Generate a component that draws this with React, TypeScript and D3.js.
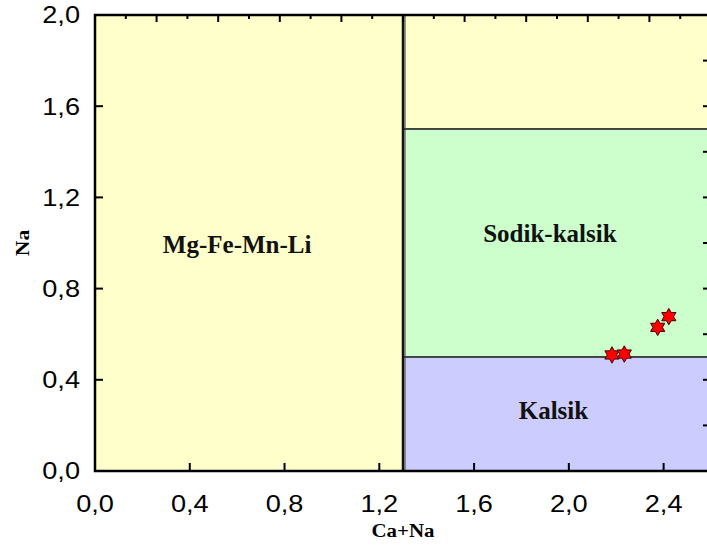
import React, { useEffect, useRef } from "react";
import * as d3 from "d3";

// Data
const sampleX = [2.182, 2.234, 2.375, 2.422];
const sampleY = [0.509, 0.513, 0.63, 0.677];

// Classification fields: [x0, x1, y0, y1]
const fieldNames = ["Mg-Fe-Mn-Li", "upper", "Sodik-kalsik", "Kalsik"];
const fieldX0 = [0, 1.3, 1.3, 1.3];
const fieldX1 = [1.3, 2.6, 2.6, 2.6];
const fieldY0 = [0, 1.5, 0.5, 0];
const fieldY1 = [2.0, 2.0, 1.5, 0.5];
const fieldColors = ["#FFFFCC", "#FFFFCC", "#CCFFCC", "#CCCCFF"];

// Label anchors (data coords)
const labelText = ["Mg-Fe-Mn-Li", "Sodik-kalsik", "Kalsik"];
const labelX = [0.6, 1.92, 1.935];
const labelY = [0.956, 1.006, 0.228];

const xTicks = [0, 0.4, 0.8, 1.2, 1.6, 2.0, 2.4];
const yTicks = [0, 0.4, 0.8, 1.2, 1.6, 2.0];
const fmt = (v: number) => v.toFixed(1).replace(".", ",");

export default function App() {
  const ref = useRef<SVGSVGElement | null>(null);

  useEffect(() => {
    const svg = d3.select(ref.current);
    svg.selectAll("*").remove();

    const left = 95, right = 711, top = 15, bottom = 471;
    const x = d3.scaleLinear().domain([0, 2.6]).range([left, right]);
    const y = d3.scaleLinear().domain([0, 2.0]).range([bottom, top]);
    const xTop = d3.scaleLinear().domain([0, 10]).range([left, right]);

    // Fields
    const idx = d3.range(fieldNames.length);
    svg
      .append("g")
      .selectAll("rect")
      .data(idx)
      .join("rect")
      .attr("x", (i) => x(fieldX0[i]) + (i > 0 ? 2 : 0))
      .attr("y", (i) => y(fieldY1[i]))
      .attr("width", (i) => x(fieldX1[i]) - x(fieldX0[i]) - (i > 0 ? 2 : 0))
      .attr("height", (i) => y(fieldY0[i]) - y(fieldY1[i]))
      .attr("fill", (i) => fieldColors[i])
      .attr("stroke", "#555")
      .attr("stroke-width", 1.2);

    // Horizontal boundaries
    [1.5, 0.5].forEach((v) => {
      svg
        .append("line")
        .attr("x1", x(1.3))
        .attr("x2", right)
        .attr("y1", y(v))
        .attr("y2", y(v))
        .attr("stroke", "#333")
        .attr("stroke-width", 1.6);
    });

    // Vertical boundary at 1.3
    svg
      .append("line")
      .attr("x1", x(1.3))
      .attr("x2", x(1.3))
      .attr("y1", top)
      .attr("y2", bottom)
      .attr("stroke", "#111")
      .attr("stroke-width", 2.5);

    // Frame
    svg
      .append("rect")
      .attr("x", left)
      .attr("y", top)
      .attr("width", right - left)
      .attr("height", bottom - top)
      .attr("fill", "none")
      .attr("stroke", "#000")
      .attr("stroke-width", 2.5);

    const tickG = svg.append("g").attr("stroke", "#000").attr("stroke-width", 2);
    // bottom ticks
    xTicks.forEach((t) => {
      tickG.append("line").attr("x1", x(t)).attr("x2", x(t)).attr("y1", bottom).attr("y2", bottom - 8);
    });
    // left ticks
    yTicks.forEach((t) => {
      tickG.append("line").attr("x1", left).attr("x2", left + 8).attr("y1", y(t)).attr("y2", y(t));
    });
    // top ticks
    d3.range(0, 10.01, 0.5).forEach((t) => {
      const major = Math.abs(t - Math.round(t)) < 1e-6;
      tickG
        .append("line")
        .attr("x1", xTop(t))
        .attr("x2", xTop(t))
        .attr("y1", top)
        .attr("y2", top + (major ? 7 : 4));
    });
    // right ticks
    d3.range(0, 2.001, 0.1).forEach((t) => {
      const major = Math.abs(t * 5 - Math.round(t * 5)) < 1e-6;
      tickG
        .append("line")
        .attr("x1", right)
        .attr("x2", right - (major ? 8 : 4))
        .attr("y1", y(t))
        .attr("y2", y(t));
    });

    // tick labels
    const sans = "'Liberation Sans', Arial, sans-serif";
    xTicks.forEach((t) => {
      svg
        .append("text")
        .attr("transform", `translate(${x(t)},512) scale(1.18,1)`)
        .attr("text-anchor", "middle")
        .attr("font-family", sans)
        .attr("font-size", 23)
        .attr("fill", "#000")
        .text(fmt(t));
    });
    yTicks.forEach((t) => {
      svg
        .append("text")
        .attr("transform", `translate(80,${y(t) + 8.3}) scale(1.18,1)`)
        .attr("text-anchor", "end")
        .attr("font-family", sans)
        .attr("font-size", 23)
        .attr("fill", "#000")
        .text(fmt(t));
    });

    const serif = "'Liberation Serif', 'Times New Roman', serif";
    // axis titles
    svg
      .append("text")
      .attr("transform", `translate(${(left + right) / 2},537) scale(1.1,1)`)
      .attr("text-anchor", "middle")
      .attr("font-family", serif)
      .attr("font-weight", "bold")
      .attr("font-size", 19)
      .text("Ca+Na");
    svg
      .append("text")
      .attr("transform", `translate(28.5,243) rotate(-90) scale(1.2,1)`)
      .attr("text-anchor", "middle")
      .attr("font-family", serif)
      .attr("font-weight", "bold")
      .attr("font-size", 18)
      .text("Na");

    // field labels
    labelText.forEach((s, i) => {
      svg
        .append("text")
        .attr("x", x(labelX[i]))
        .attr("y", y(labelY[i]))
        .attr("text-anchor", "middle")
        .attr("font-family", serif)
        .attr("font-weight", "bold")
        .attr("font-size", 25)
        .attr("fill", "#111")
        .text(s);
    });

    // star markers (hexagram)
    const R = 8.2, r = R / Math.sqrt(3);
    const starPts: [number, number][] = d3.range(12).map((k) => {
      const a = (k * Math.PI) / 6 - Math.PI / 2;
      const rad = k % 2 === 0 ? R : r;
      return [rad * Math.cos(a), rad * Math.sin(a)];
    });
    const starPath = d3.line()(starPts) + "Z";
    svg
      .append("g")
      .selectAll("path")
      .data(sampleX.map((v, i) => [v, sampleY[i]]))
      .join("path")
      .attr("d", starPath)
      .attr("transform", (d) => `translate(${x(d[0])},${y(d[1])})`)
      .attr("fill", "#FF0000")
      .attr("stroke", "#400000")
      .attr("stroke-width", 1);
  }, []);

  return (
    <svg
      ref={ref}
      width={707}
      height={547}
      style={{ position: "absolute", left: 0, top: 0, background: "#fff" }}
    />
  );
}
